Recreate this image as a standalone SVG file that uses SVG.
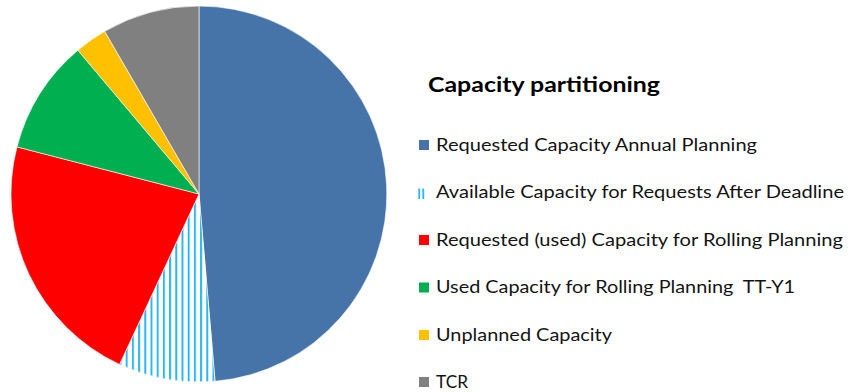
<svg xmlns="http://www.w3.org/2000/svg" width="848" height="392" viewBox="0 0 848 392">
  <defs>
    <pattern id="hatch" patternUnits="userSpaceOnUse" x="1.7" y="0" width="6.2" height="10">
      <rect x="0" y="0" width="6.2" height="10" fill="#ffffff"/>
      <rect x="0" y="0" width="2" height="10" fill="#2BB6EF"/>
    </pattern>
    <style>
      .slice { stroke: #ffffff; stroke-width: 0.6; stroke-linejoin: round; }
      .lbl { font-family: Lato, "Open Sans", "Liberation Sans", sans-serif; font-size: 16.8px; fill: #141414; }
      .title { font-family: Lato, "Open Sans", "Liberation Sans", sans-serif; font-size: 21px; font-weight: bold; fill: #000000; }
    </style>
  </defs>
  <rect x="0" y="0" width="848" height="392" fill="#ffffff"/>

  <g id="pie">
    <g id="slice-annual"><path class="slice" fill="#4674A9" d="M199,194 L199,6 A188,188 0 0 1 215.06,381.3 Z"/></g>
    <g id="slice-after-deadline"><path class="slice" fill="url(#hatch)" d="M199,194 L215.06,381.3 A188,188 0 0 1 119.55,364.4 Z"/></g>
    <g id="slice-rolling"><path class="slice" fill="#FF0000" d="M199,194 L119.55,364.4 A188,188 0 0 1 16.99,146.9 Z"/></g>
    <g id="slice-rolling-tty1"><path class="slice" fill="#00B050" d="M199,194 L16.99,146.9 A188,188 0 0 1 77.9,50.2 Z"/></g>
    <g id="slice-unplanned"><path class="slice" fill="#FFC000" d="M199,194 L77.9,50.2 A188,188 0 0 1 104.7,31.3 Z"/></g>
    <g id="slice-tcr"><path class="slice" fill="#808080" d="M199,194 L104.7,31.3 A188,188 0 0 1 199,6 Z"/></g>
  </g>

  <g id="legend">
    <g id="legend-title"><text class="title" x="428" y="92" textLength="232" lengthAdjust="spacingAndGlyphs">Capacity partitioning</text></g>
    <g id="legend-annual">
      <rect x="419" y="140" width="10" height="10" fill="#4674A9"/>
      <text class="lbl" x="436" y="151" textLength="321" lengthAdjust="spacingAndGlyphs">Requested Capacity Annual Planning</text>
    </g>
    <g id="legend-after-deadline">
      <rect x="418.3" y="188.5" width="1.8" height="10.5" fill="#2BB6EF"/>
      <rect x="422.4" y="188.5" width="1.8" height="10.5" fill="#2BB6EF"/>
      <text class="lbl" x="436" y="198.3" textLength="408" lengthAdjust="spacingAndGlyphs">Available Capacity for Requests After Deadline</text>
    </g>
    <g id="legend-rolling">
      <rect x="419" y="235" width="10" height="10" fill="#FF0000"/>
      <text class="lbl" x="436" y="245.8" textLength="407" lengthAdjust="spacingAndGlyphs">Requested (used) Capacity for Rolling Planning</text>
    </g>
    <g id="legend-rolling-tty1">
      <rect x="419" y="282.5" width="10" height="10" fill="#00B050"/>
      <text class="lbl" x="436" y="293.3" textLength="359" lengthAdjust="spacingAndGlyphs" xml:space="preserve">Used Capacity for Rolling Planning  TT-Y1</text>
    </g>
    <g id="legend-unplanned">
      <rect x="419" y="330" width="10" height="10" fill="#FFC000"/>
      <text class="lbl" x="436" y="340.8" textLength="176" lengthAdjust="spacingAndGlyphs">Unplanned Capacity</text>
    </g>
    <g id="legend-tcr">
      <rect x="419" y="377" width="10" height="10" fill="#808080"/>
      <text class="lbl" x="436" y="388" textLength="32" lengthAdjust="spacingAndGlyphs">TCR</text>
    </g>
  </g>
</svg>
